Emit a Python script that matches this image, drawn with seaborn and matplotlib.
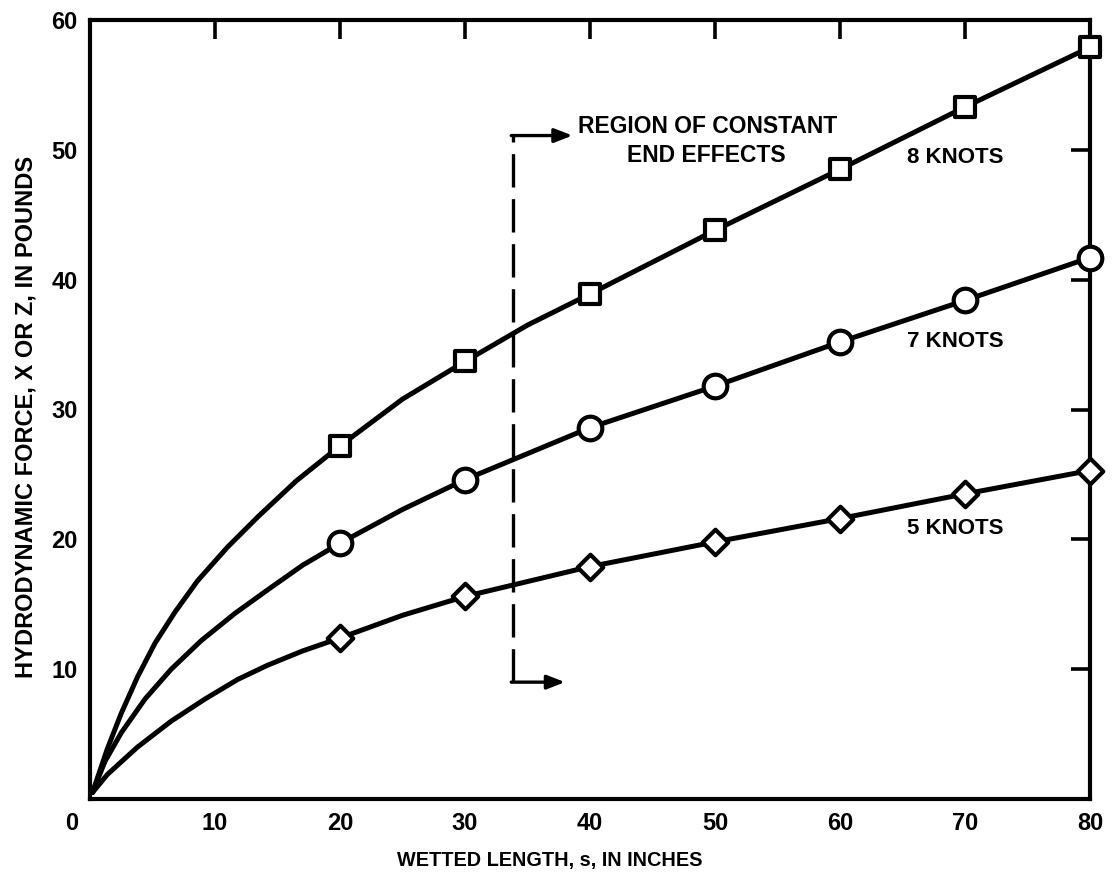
import matplotlib
matplotlib.use("Agg")
import matplotlib.pyplot as plt
import seaborn as sns
import pandas as pd

# ---- data ----
x_meas = [20, 30, 40, 50, 60, 70, 80]
y8_meas = [27.2, 33.7, 38.9, 43.8, 48.5, 53.3, 57.9]
y7_meas = [19.7, 24.6, 28.6, 31.8, 35.2, 38.4, 41.7]
y5_meas = [12.4, 15.6, 17.9, 19.8, 21.6, 23.5, 25.3]

# points (origin to x = 20, plus mid-spans)
x8_curve = [0.2, 1.4, 2.5, 3.8, 5.2, 6.8, 8.6, 11.0, 13.5, 16.5]
y8_curve = [0.5, 3.9, 6.6, 9.4, 12.0, 14.4, 16.8, 19.4, 21.8, 24.5]
x8_mid = [25, 35]
y8_mid = [30.8, 36.5]

x7_curve = [0.2, 1.2, 2.5, 4.4, 6.5, 8.9, 11.6, 14.2, 17.0]
y7_curve = [0.5, 2.9, 5.1, 7.7, 10.0, 12.2, 14.3, 16.1, 18.0]
x7_mid = [25]
y7_mid = [22.3]

x5_curve = [0.2, 1.4, 3.8, 6.5, 9.2, 11.8, 14.2, 17.0]
y5_curve = [0.5, 1.9, 4.0, 6.0, 7.7, 9.2, 10.3, 11.4]
x5_mid = [25]
y5_mid = [14.15]

x_ticks = [0, 10, 20, 30, 40, 50, 60, 70, 80]
y_ticks = [10, 20, 30, 40, 50, 60]
series_labels = ["8 KNOTS", "7 KNOTS", "5 KNOTS"]

sns.set_theme(style="white")
plt.rcParams["font.family"] = ["Liberation Sans", "DejaVu Sans"]
plt.rcParams["font.weight"] = "bold"
plt.rcParams["text.color"] = "black"
plt.rcParams["axes.labelcolor"] = "black"
plt.rcParams["xtick.color"] = "black"
plt.rcParams["ytick.color"] = "black"

fig = plt.figure(figsize=(11.13, 8.81), dpi=100)
ax = fig.add_axes([90 / 1113, 1 - 799 / 881, 1000 / 1113, 779 / 881])

series = [
    (x8_curve, y8_curve, x8_mid, y8_mid, y8_meas, "s", 15),
    (x7_curve, y7_curve, x7_mid, y7_mid, y7_meas, "o", 17),
    (x5_curve, y5_curve, x5_mid, y5_mid, y5_meas, "D", 13),
]
for xc, yc, xm, ymid, ym, mk, ms in series:
    df = pd.DataFrame({"x": xc + x_meas + xm, "y": yc + ym + ymid})
    df = df.sort_values("x")
    sns.lineplot(data=df, x="x", y="y", ax=ax, color="black", lw=3.6,
                 sort=False, estimator=None, zorder=3)
    dm = pd.DataFrame({"x": x_meas, "y": ym})
    sns.scatterplot(data=dm, x="x", y="y", ax=ax, marker=mk, s=ms ** 2,
                    facecolor="white", edgecolor="black", linewidth=3.0,
                    zorder=5, clip_on=False)

# region of constant end effects
xd, ytop, ybot = 33.8, 51.1, 9.0
ax.plot([xd, xd], [ybot, ytop], color="black", lw=2.4,
        linestyle=(0, (10, 3.5)), zorder=2)
for yy, xe in [(ytop, 38.6), (ybot, 38.0)]:
    ax.annotate("", xy=(xe, yy), xytext=(xd - 0.1, yy),
                arrowprops=dict(arrowstyle="-|>,head_length=0.9,head_width=0.35",
                                color="black", lw=2.4, shrinkA=0, shrinkB=0))
ax.text(39.0, 51.8, "REGION OF CONSTANT", fontsize=16.5, fontweight="bold",
        ha="left", va="center")
ax.text(49.3, 49.6, "END EFFECTS", fontsize=16.5, fontweight="bold",
        ha="center", va="center")

ax.text(69.2, 49.4, series_labels[0], fontsize=16, fontweight="bold",
        ha="center", va="center")
ax.text(69.2, 35.2, series_labels[1], fontsize=16, fontweight="bold",
        ha="center", va="center")
ax.text(69.2, 20.8, series_labels[2], fontsize=16, fontweight="bold",
        ha="center", va="center")

ax.set_xlim(0, 80)
ax.set_ylim(0, 60)
ax.set_xticks(x_ticks)
ax.set_xticklabels([""] + [str(v) for v in x_ticks[1:]])
ax.annotate(str(x_ticks[0]), xy=(0, 0), xytext=(-18, -13),
            textcoords="offset pixels", ha="center", va="top",
            fontsize=17, fontweight="bold", annotation_clip=False)
ax.set_yticks(y_ticks)
ax.tick_params(axis="both", which="both", direction="in", length=14, width=2.6,
               top=True, right=True, labelsize=17, pad=9, colors="black")
for lab in ax.get_xticklabels() + ax.get_yticklabels():
    lab.set_fontweight("bold")
for sp in ax.spines.values():
    sp.set_linewidth(3.0)
    sp.set_color("black")
    sp.set_visible(True)

ax.set_xlabel("WETTED LENGTH, s, IN INCHES", fontsize=14.3, fontweight="bold",
              labelpad=12)
ax.set_ylabel("HYDRODYNAMIC FORCE, X OR Z, IN POUNDS", fontsize=17,
              fontweight="bold", labelpad=10)
ax.xaxis.label.set_x(0.4595)
ax.yaxis.label.set_y(0.49)

fig.savefig("out.png", dpi=100)
